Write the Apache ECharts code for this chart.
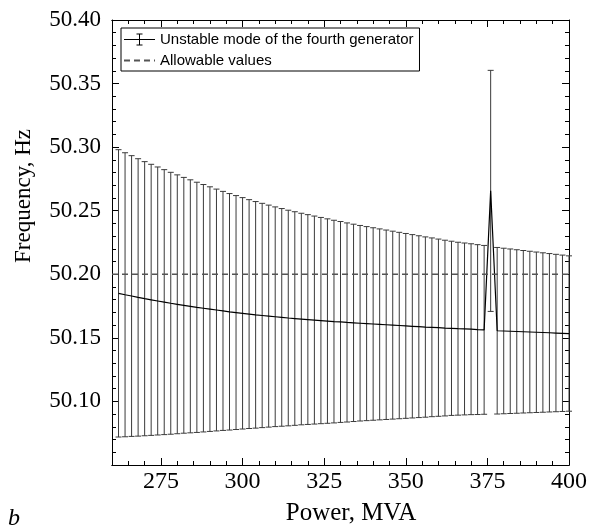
<!DOCTYPE html>
<html><head><meta charset="utf-8">
<script src="https://cdn.jsdelivr.net/npm/echarts@6/dist/echarts.min.js"></script>
<style>html,body{margin:0;padding:0;background:#fff}#c{width:592px;height:531px}</style>
</head><body><div id="c"></div>
<script>
// Power, MVA
const power = [
  262,264,266,268,270,272,274,276,278,280,
  282,284,286,288,290,292,294,296,298,300,
  302,304,306,308,310,312,314,316,318,320,
  322,324,326,328,330,332,334,336,338,340,
  342,344,346,348,350,352,354,356,358,360,
  362,364,366,368,370,372,374,376,378,380,
  382,384,386,388,390,392,394,396,398,400
];
// Mean frequency, Hz (unstable mode of the fourth generator)
const meanFreq = [
  50.1850,50.1839,50.1829,50.1818,50.1808,50.1799,50.1790,50.1781,50.1772,50.1764,
  50.1756,50.1748,50.1740,50.1733,50.1726,50.1719,50.1712,50.1705,50.1699,50.1693,
  50.1687,50.1681,50.1676,50.1671,50.1666,50.1661,50.1656,50.1652,50.1648,50.1644,
  50.1640,50.1636,50.1632,50.1628,50.1625,50.1621,50.1618,50.1615,50.1612,50.1609,
  50.1606,50.1603,50.1600,50.1597,50.1594,50.1591,50.1588,50.1585,50.1583,50.1580,
  50.1577,50.1575,50.1572,50.1570,50.1568,50.1565,50.1563,50.2656,50.1556,50.1554,
  50.1552,50.1550,50.1548,50.1546,50.1544,50.1542,50.1540,50.1538,50.1536,50.1534
];
// Error bar half-width, Hz
const halfErr = [
  0.1130,0.1117,0.1104,0.1091,0.1078,0.1066,0.1054,0.1042,0.1030,0.1018,
  0.1006,0.0995,0.0984,0.0973,0.0962,0.0951,0.0940,0.0930,0.0920,0.0910,
  0.0900,0.0891,0.0882,0.0873,0.0864,0.0856,0.0848,0.0840,0.0832,0.0825,
  0.0818,0.0811,0.0804,0.0797,0.0790,0.0783,0.0776,0.0769,0.0763,0.0757,
  0.0751,0.0745,0.0739,0.0733,0.0727,0.0721,0.0715,0.0709,0.0703,0.0697,
  0.0691,0.0685,0.0680,0.0676,0.0672,0.0668,0.0664,0.0948,0.0655,0.0651,
  0.0647,0.0643,0.0639,0.0635,0.0631,0.0627,0.0623,0.0619,0.0615,0.0611
];
const allowableValue = 50.20;
const xRange = [260, 400];
const yRange = [50.05, 50.40];
const xTickLabels = [275, 300, 325, 350, 375, 400];
const yTickLabels = ['50.10','50.15','50.20','50.25','50.30','50.35','50.40'];
const seriesName1 = 'Unstable mode of the fourth generator';
const seriesName2 = 'Allowable values';

const serif = 'Liberation Serif';
const meanData = power.map((p, i) => [p, meanFreq[i]]);
const errData = power.map((p, i) => [p, meanFreq[i] - halfErr[i], meanFreq[i] + halfErr[i]]);
const allowData = [[xRange[0], allowableValue], [xRange[1], allowableValue]];

const chart = echarts.init(document.getElementById('c'), null, {renderer: 'canvas'});
const axisLine = {show: true, lineStyle: {color: '#000', width: 1}};
function xAx(pos, majors, labels) {
  const a = {
    type: 'value', min: xRange[0], max: xRange[1], position: pos,
    axisLine: axisLine, splitLine: {show: false},
    axisTick: {show: true, inside: true, length: majors ? 7 : 4, lineStyle: {color: '#000'}},
    axisLabel: {show: false}
  };
  if (majors) {
    a.axisTick.customValues = xTickLabels;
    if (labels) a.axisLabel = {show: true, customValues: xTickLabels, color: '#000',
      fontFamily: serif, fontSize: 24, margin: 5};
  } else {
    a.interval = 5;
  }
  return a;
}
function yAx(pos, labels) {
  return {
    type: 'value', min: yRange[0], max: yRange[1], interval: 0.05, position: pos,
    axisLine: axisLine, splitLine: {show: false},
    axisTick: {show: true, inside: true, length: 7, lineStyle: {color: '#000'}},
    minorTick: {show: true, splitNumber: 5, length: 4, lineStyle: {color: '#000'}},
    minorSplitLine: {show: false},
    axisLabel: labels ? {show: true, color: '#000', fontFamily: serif, fontSize: 23, margin: 11,
      formatter: v => { const s = v.toFixed(2); return yTickLabels.indexOf(s) >= 0 ? s : ''; }}
      : {show: false}
  };
}

const option = {
  backgroundColor: '#fff',
  animation: false,
  grid: {left: 112, right: 23, top: 20, bottom: 66, containLabel: false},
  xAxis: [xAx('bottom', false), xAx('bottom', true, true), xAx('top', false), xAx('top', true, false)],
  yAxis: [yAx('left', true), yAx('right', false)],
  legend: {
    left: 121, top: 28, orient: 'vertical',
    backgroundColor: '#fff', borderColor: '#000', borderWidth: 1, borderRadius: 0,
    padding: [4, 6, 3, 2], itemGap: 6, itemWidth: 31, itemHeight: 12,
    textStyle: {fontFamily: 'Liberation Sans', fontSize: 15, color: '#000', lineHeight: 15},
    selectedMode: false,
    data: [
      {name: seriesName1, icon: 'path://M0,5.5H31V6.5H0Z M15,0H16V12H15Z M12.5,0H18.5V1H12.5Z M12.5,11H18.5V12H12.5Z'},
      {name: seriesName2, itemStyle: {color: 'rgba(0,0,0,0)', borderWidth: 0, borderColor: 'rgba(0,0,0,0)'}}
    ]
  },
  series: [
    {
      name: 'errorbars', type: 'custom', xAxisIndex: 0, yAxisIndex: 0, z: 2,
      encode: {x: 0, y: [1, 2]},
      data: errData,
      renderItem: function (params, api) {
        const x = api.value(0), lo = api.value(1), hi = api.value(2);
        const pTop = api.coord([x, hi]), pBot = api.coord([x, lo]);
        const hw = 3;
        const st = {stroke: '#3a3a3a', lineWidth: 1, fill: null};
        return {type: 'group', children: [
          {type: 'line', shape: {x1: pTop[0], y1: pTop[1], x2: pBot[0], y2: pBot[1]}, style: st},
          {type: 'line', shape: {x1: pTop[0] - hw, y1: pTop[1], x2: pTop[0] + hw, y2: pTop[1]}, style: st},
          {type: 'line', shape: {x1: pBot[0] - hw, y1: pBot[1], x2: pBot[0] + hw, y2: pBot[1]}, style: st}
        ]};
      }
    },
    {
      name: seriesName1, type: 'line', xAxisIndex: 0, yAxisIndex: 0, z: 3,
      data: meanData, symbol: 'none', showSymbol: false,
      lineStyle: {color: '#000', width: 1.2}, itemStyle: {color: '#000'}
    },
    {
      name: seriesName2, type: 'line', xAxisIndex: 0, yAxisIndex: 0, z: 4,
      data: allowData, symbol: 'none', showSymbol: false,
      lineStyle: {color: '#555', width: 1.5, type: [6, 4]}, itemStyle: {color: '#555'}
    }
  ],
  graphic: [
    {type: 'text', x: 24, y: 196, rotation: Math.PI / 2,
      style: {text: 'Frequency, Hz', font: '23px "Liberation Serif"', fill: '#000', textAlign: 'center', textVerticalAlign: 'middle'}},
    {type: 'text', x: 351, y: 513,
      style: {text: 'Power, MVA', font: '25px "Liberation Serif"', fill: '#000', textAlign: 'center', textVerticalAlign: 'middle'}},
    {type: 'text', x: 14, y: 519,
      style: {text: 'b', font: 'italic 24px "Liberation Serif"', fill: '#000', textAlign: 'center', textVerticalAlign: 'middle'}}
  ]
};
chart.setOption(option);
</script>
</body></html>
